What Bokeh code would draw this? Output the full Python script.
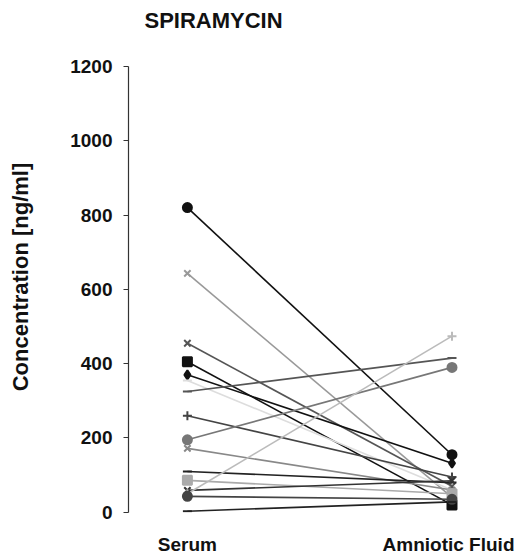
from bokeh.plotting import figure
from bokeh.models import ColumnDataSource, FixedTicker, Range1d
from bokeh.embed import file_html
from bokeh.resources import INLINE

groups = ["Serum", "Amniotic Fluid"]
serum = [820, 643, 455, 405, 370, 355, 325, 260, 195, 172, 110, 86, 59, 50, 43, 3]
amniotic = [155, 40, 70, 20, 132, 60, 415, 95, 390, 60, 80, 50, 85, 474, 35, 28]
markers = ["circle", "x", "x", "square", "diamond", "dash", "dash", "cross",
           "circle", "x", "dash", "square", "x", "cross", "circle", "dash"]
colors = ["#111111", "#999999", "#555555", "#111111", "#111111", "#dddddd", "#555555", "#444444",
          "#777777", "#888888", "#222222", "#aaaaaa", "#333333", "#bbbbbb", "#444444", "#222222"]
y_ticks = [0, 200, 400, 600, 800, 1000, 1200]

FONT = "Liberation Sans"

p = figure(width=514, height=557, output_backend="svg", toolbar_location=None,
           x_range=Range1d(-0.2226, 1.206), y_range=Range1d(-0.5, 1267),
           min_border_left=128, min_border_right=8, min_border_top=0, min_border_bottom=0,
           title="SPIRAMYCIN")

p.title.text_font = FONT
p.title.text_font_size = "22px"
p.title.text_font_style = "bold"
p.title.text_color = "#111111"
p.title.align = "left"
p.title.vertical_align = "top"
p.title.offset = 16
p.title.standoff = 14

xs = [[0, 1] for _ in serum]
ys = [[s, a] for s, a in zip(serum, amniotic)]
p.multi_line(xs=xs, ys=ys, line_color=colors, line_width=1.6)

pts = ColumnDataSource(dict(
    x=[0] * len(serum) + [1] * len(amniotic),
    y=serum + amniotic,
    m=markers + markers,
    c=colors + colors,
))
p.scatter(x="x", y="y", marker="m", source=pts, size=9, fill_color="c", line_color="c", line_width=2)

p.grid.visible = False
p.outline_line_color = None

ya = p.yaxis[0]
ya.ticker = FixedTicker(ticks=y_ticks)
ya.bounds = (0, 1200)
ya.axis_line_color = "#333333"
ya.axis_line_width = 1.2
ya.major_tick_out = 5
ya.major_tick_in = 0
ya.minor_tick_line_color = None
ya.major_tick_line_color = "#333333"
ya.major_label_standoff = 11
ya.major_label_text_font = FONT
ya.major_label_text_font_size = "19px"
ya.major_label_text_font_style = "bold"
ya.major_label_text_color = "#111111"
ya.axis_label = "Concentration [ng/ml]"
ya.axis_label_text_font = FONT
ya.axis_label_text_font_size = "22px"
ya.axis_label_text_font_style = "bold"
ya.axis_label_text_color = "#111111"
ya.axis_label_standoff = 34

xa = p.xaxis[0]
xa.ticker = FixedTicker(ticks=[0, 1])
xa.major_label_overrides = {0: groups[0], 1: groups[1]}
xa.axis_line_color = None
xa.major_tick_line_color = None
xa.minor_tick_line_color = None
xa.major_label_standoff = 15
xa.major_label_text_font = FONT
xa.major_label_text_font_size = "19px"
xa.major_label_text_font_style = "bold"
xa.major_label_text_color = "#111111"

open("out.html", "w").write(file_html(p, INLINE))
